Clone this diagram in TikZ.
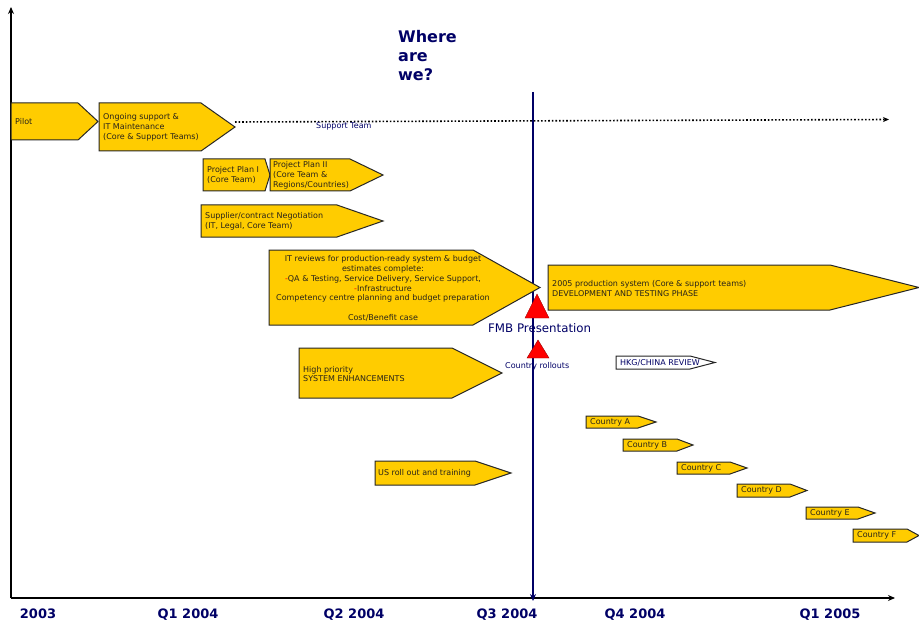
\documentclass[tikz,border=0pt]{standalone}
\usepackage{fontspec}
\setmainfont{DejaVu Sans}
\usetikzlibrary{arrows.meta}
\definecolor{navy}{RGB}{0,0,102}
\definecolor{gold}{RGB}{255,204,0}
\definecolor{boxtext}{RGB}{40,35,25}
\tikzset{
  pent/.style={fill=gold, draw=black!85, line width=1pt, line join=miter},
  hollow/.style={fill=white, draw=black!85, line width=1pt},
  lbl/.style={inner sep=0pt, anchor=west, align=left, text=boxtext,
    font=\fontsize{8}{9.8}\selectfont},
  note/.style={inner sep=0pt, anchor=west, text=navy, font=\fontsize{8}{9.8}\selectfont},
  quarter/.style={inner sep=0pt, anchor=base, text=navy, font=\fontsize{13}{15}\selectfont\bfseries},
  milestone/.style={fill=red, draw=red!60!black, line width=0.4pt},
}
% pentagon bar: name, left x, shoulder x, tip x, top y, bottom y
\newcommand\taskbar[7][pent]{%
  \draw[#1] (#3,#6) -- (#4,#6) -- (#5,{(#6+#7)/2}) -- (#4,#7) -- (#3,#7) -- cycle;
  \coordinate (#2) at (#5,{(#6+#7)/2});
}
\begin{document}
\begin{tikzpicture}[x=1pt,y=-1pt]
\useasboundingbox (0,0) rectangle (919,623);

% axes
\coordinate (origin) at (11,598);
\coordinate (ytop) at (11,7);
\coordinate (xend) at (895,598);
\draw[line width=1.8pt, -{Stealth[length=7pt,width=6pt]}] (origin) -- (ytop);
\draw[line width=1.8pt, -{Stealth[length=7pt,width=6pt]}] (origin) -- (xend);

% quarter labels
\node[quarter] (q0) at (38,618) {2003};
\node[quarter] (q1) at (188,618) {Q1 2004};
\node[quarter] (q2) at (354,618) {Q2 2004};
\node[quarter] (q3) at (507,618) {Q3 2004};
\node[quarter] (q4) at (635,618) {Q4 2004};
\node[quarter] (q5) at (830,618) {Q1 2005};

% heading
\node[inner sep=0pt, anchor=north west, align=left, text=navy,
  font=\fontsize{16}{19}\selectfont\bfseries] (where) at (398,30) {Where\\are\\we?};

% today marker
\coordinate (nowtop) at (533,92);
\coordinate (nowbot) at (533,601);
\draw[navy, line width=2.6pt, -{Stealth[length=7pt,width=6pt]}] (nowtop) -- (nowbot);

% bars
\taskbar{pilot}{11}{78}{98}{103}{140}
\node[lbl] (pilotT) at (15,122) {Pilot};

\taskbar{ongoing}{99}{201}{235}{103}{151}
\node[lbl] (ongoingT) at (103,127.5) {Ongoing support \&\\IT Maintenance\\(Core \& Support Teams)};

\coordinate (supportend) at (889,119.5);
\draw[line width=1.6pt, dotted, -{Stealth[length=6pt,width=5pt]}] ([yshift=5pt]ongoing) -- (supportend);
\node[note] (supportT) at (316,126) {Support Team};

\taskbar{planA}{203}{265}{270}{159}{191}
\node[lbl] (planAT) at (207,175) {Project Plan I\\(Core Team)};
\taskbar{planB}{270}{350}{383}{159}{191}
\node[lbl] (planBT) at (273,175) {Project Plan II\\(Core Team \&\\Regions/Countries)};

\taskbar{supplier}{201}{337}{383}{205}{237}
\node[lbl] (supplierT) at (205,221) {Supplier/contract Negotiation\\(IT, Legal, Core Team)};

\taskbar{review}{269}{473}{540}{250}{325}
\node[lbl, anchor=center, align=center] (reviewT) at (383,288.5)
  {IT reviews for production-ready system \& budget\\estimates complete:\\
   \textcolor{red}{-}QA \& Testing, Service Delivery, Service Support,\\
   \textcolor{red}{-}Infrastructure\\
   Competency centre planning and budget preparation\\[9.8pt]
   Cost/Benefit case};

\taskbar{prod}{548}{830}{919}{265}{310}
\node[lbl] (prodT) at (552,288.5) {2005 production system (Core \& support teams)\\DEVELOPMENT AND TESTING PHASE};

\taskbar{enh}{299}{452}{502}{348}{398}
\node[lbl] (enhT) at (303,374) {High priority\\SYSTEM ENHANCEMENTS};

\taskbar{us}{375}{475}{511}{461}{485}
\node[lbl] (usT) at (378,473) {US roll out and training};

\taskbar[hollow]{hkg}{616}{690}{715}{356}{369}
\node[lbl, text=navy] (hkgT) at (620,362.5) {HKG/CHINA REVIEW};

% country rollouts
\taskbar{ca}{586}{638}{656}{416}{428}
\node[lbl] (caT) at (590,422) {Country A};
\taskbar{cb}{623}{677}{693}{439}{451}
\node[lbl] (cbT) at (627,445) {Country B};
\taskbar{cc}{677}{730}{747}{462}{474}
\node[lbl] (ccT) at (681,468) {Country C};
\taskbar{cd}{737}{790}{807}{484}{497}
\node[lbl] (cdT) at (741,490.5) {Country D};
\taskbar{ce}{806}{858}{875}{507}{519}
\node[lbl] (ceT) at (810,513) {Country E};
\taskbar{cf}{853}{907}{919}{529}{542}
\node[lbl] (cfT) at (857,535.5) {Country F};

% milestones
\draw[milestone] (537,294) -- (549,318) -- (525,318) -- cycle;
\node[inner sep=0pt, anchor=west, text=navy, font=\fontsize{11.8}{13}\selectfont] (fmb) at (488,328.5) {FMB Presentation};
\draw[milestone] (538,340) -- (549,358) -- (527,358) -- cycle;
\node[note] (rollT) at (505,366) {Country rollouts};
\end{tikzpicture}
\end{document}
